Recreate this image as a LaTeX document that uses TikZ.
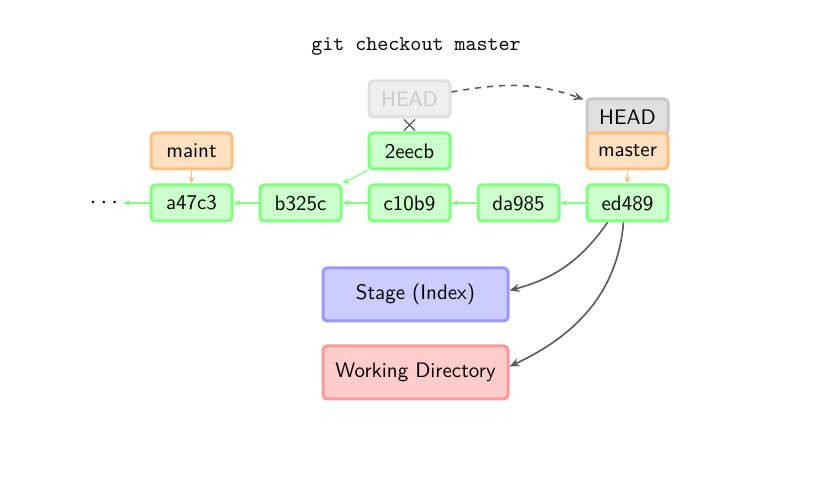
\documentclass[tikz,border=0pt]{standalone}
\usetikzlibrary{arrows.meta,positioning,shapes.misc}
\definecolor{commitfill}{HTML}{CCFFCC}
\definecolor{commitline}{HTML}{80FF80}
\definecolor{branchfill}{HTML}{FFE0C0}
\definecolor{branchline}{HTML}{FFBF80}
\definecolor{headfill}{HTML}{E0E0E0}
\definecolor{headline}{HTML}{C8C8C8}
\definecolor{stagefill}{HTML}{CCCCFF}
\definecolor{stageline}{HTML}{9999FF}
\definecolor{wdfill}{HTML}{FFCCCC}
\definecolor{wdline}{HTML}{FF9999}
\definecolor{arrowgray}{gray}{0.35}

\tikzset{
  box/.style={draw, rectangle, rounded corners=2pt, line width=1.5pt,
    minimum width=40.5pt, minimum height=18pt, inner sep=0pt},
  commit/.style={box, draw=commitline, fill=commitfill},
  branch/.style={box, draw=branchline, fill=branchfill},
  headbox/.style={box, draw=headline, fill=headfill},
  oldhead/.style={box, draw=headfill, fill=headfill!50, text=headline},
  area/.style={box, minimum width=92.5pt, minimum height=26.5pt},
  parent/.style={draw=commitline, line width=0.6pt, -{Stealth[length=3.5pt,width=3pt]}},
  pointer/.style={draw=branchline, line width=0.6pt, -{Stealth[length=3.5pt,width=3pt]}},
  move/.style={draw=arrowgray, line width=0.8pt, -{Stealth[length=5pt,width=4pt]}}
}

\begin{document}
\begin{tikzpicture}[x=0.5pt, y=-0.5pt, node distance=6.5pt and 12.5pt,
    font=\sffamily\fontsize{10.5}{12}\selectfont]
  \useasboundingbox (0,0) rectangle (831,485);

  \node[font=\ttfamily\fontsize{10.5}{12}\selectfont] (title) at (416,46) {git checkout master};

  % commits
  \node[commit] (a47c3) at (191.5,203) {a47c3};
  \node[commit, right=of a47c3] (b325c) {b325c};
  \node[commit, right=of b325c] (c10b9) {c10b9};
  \node[commit, right=of c10b9] (da985) {da985};
  \node[commit, right=of da985] (ed489) {ed489};
  \node[commit, above=of c10b9] (2eecb) {2eecb};
  \node[inner sep=2.5pt, font=\fontsize{12}{12}\selectfont] (dots) at (104,203) {$\cdots$};

  % branches and HEAD
  \node[branch, above=of a47c3] (maint) {maint};
  \node[headbox] (head) at (627.5,117) {HEAD};
  \node[branch, above=of ed489] (master) {master};
  \node[oldhead, above=of 2eecb] (prevhead) {HEAD};
  \node[cross out, draw=arrowgray, line width=0.6pt, minimum size=5pt, inner sep=0pt] (cross) at (409.5,125) {};

  % stage and working directory
  \node[area, draw=stageline, fill=stagefill] (stage) at (415.5,294.5) {Stage (Index)};
  \node[area, draw=wdline, fill=wdfill, below=11pt of stage] (wd) {Working Directory};

  \draw[parent] (a47c3) -- (dots);
  \draw[parent] (b325c) -- (a47c3);
  \draw[parent] (c10b9) -- (b325c);
  \draw[parent] (da985) -- (c10b9);
  \draw[parent] (ed489) -- (da985);
  \draw[parent] (2eecb.south west) -- (b325c.north east);

  \draw[pointer] (maint) -- (a47c3);
  \draw[pointer] (master) -- (ed489);

  \draw[move, dashed] ([yshift=3.5pt]prevhead.east) to[out=10, in=160] ([xshift=-1pt,yshift=-1pt]head.north west);
  \draw[move] ([xshift=-10pt]ed489.south) to[out=-125, in=15] ([yshift=2pt]stage.east);
  \draw[move] ([xshift=-2pt]ed489.south) to[out=-95, in=25] ([yshift=3pt]wd.east);
\end{tikzpicture}
\end{document}
